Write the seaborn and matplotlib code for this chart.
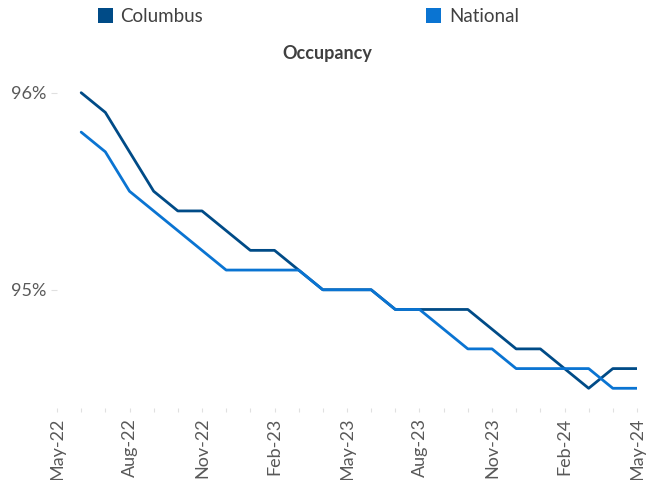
import matplotlib
matplotlib.use("Agg")
import matplotlib.pyplot as plt
from matplotlib.patches import Rectangle
import seaborn as sns
import pandas as pd

# ---- data ----
months = ["May-22", "Jun-22", "Jul-22", "Aug-22", "Sep-22", "Oct-22", "Nov-22", "Dec-22",
          "Jan-23", "Feb-23", "Mar-23", "Apr-23", "May-23", "Jun-23", "Jul-23", "Aug-23",
          "Sep-23", "Oct-23", "Nov-23", "Dec-23", "Jan-24", "Feb-24", "Mar-24", "Apr-24", "May-24"]
columbus = [96.0, 95.9, 95.7, 95.5, 95.4, 95.4, 95.3, 95.2, 95.2, 95.1, 95.0, 95.0,
            95.0, 94.9, 94.9, 94.9, 94.9, 94.8, 94.7, 94.7, 94.6, 94.5, 94.6, 94.6]
national = [95.8, 95.7, 95.5, 95.4, 95.3, 95.2, 95.1, 95.1, 95.1, 95.1, 95.0, 95.0,
            95.0, 94.9, 94.9, 94.8, 94.7, 94.7, 94.6, 94.6, 94.6, 94.6, 94.5, 94.5]
series_names = ["Columbus", "National"]
colors = ["#004B87", "#0A74D2"]
title = "Occupancy"
y_ticks = [95, 96]
y_ticklabels = ["95%", "96%"]

# data starts at Jun-22 (index 1 of months)
idx = list(range(1, len(columbus) + 1))
df = pd.concat([
    pd.DataFrame({"m": idx, "value": columbus, "series": series_names[0]}),
    pd.DataFrame({"m": idx, "value": national, "series": series_names[1]}),
])

sns.set_style("white")
plt.rcParams["font.family"] = ["Lato", "DejaVu Sans"]

fig = plt.figure(figsize=(6.47, 4.8), dpi=100)
ax = fig.add_axes([57 / 647, 1 - 408 / 480, 580 / 647, (408 - 73) / 480])

sns.lineplot(data=df, x="m", y="value", hue="series", palette=dict(zip(series_names, colors)),
             linewidth=2.0, legend=False, ax=ax)

ax.set_xlim(0, len(months) - 1)
ax.set_ylim(94.4, 96.1)
ax.set_xticks(range(len(months)))
ax.set_xticklabels([m if i % 3 == 0 else "" for i, m in enumerate(months)],
                   rotation=90, fontsize=13, color="#595959")
ax.set_yticks(y_ticks)
ax.set_yticklabels(y_ticklabels, fontsize=13, color="#595959")
ax.tick_params(axis="x", direction="out", length=3, width=0.8, color="#E0E0E0", pad=4,
               bottom=True)
ax.tick_params(axis="y", direction="out", length=4, width=0.8, color="#E0E0E0", pad=4,
               left=True)
ax.set_xlabel("")
ax.set_ylabel("")
for s in ax.spines.values():
    s.set_visible(False)
ax.grid(False)

fig.text(327 / 647, 1 - 53 / 480, title, ha="center", va="center",
         fontsize=13, fontweight="bold", color="#404040")

# legend
W, H = 647, 480
for (sx, tx), name, c in zip([(98, 120), (426, 449)], series_names, colors):
    fig.patches.append(Rectangle((sx / W, 1 - 23 / H), 15 / W, 15 / H,
                                 transform=fig.transFigure, color=c, lw=0))
    fig.text(tx / W, 1 - 16 / H, name, ha="left", va="center", fontsize=13.5, color="#404040")

fig.savefig("out.png", dpi=100)
